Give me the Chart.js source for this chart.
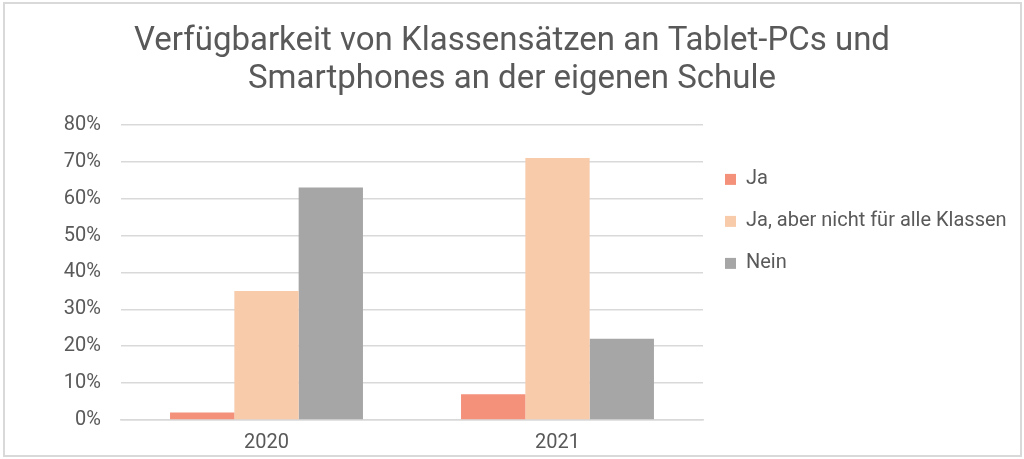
<!DOCTYPE html>
<html>
<head>
<meta charset="utf-8">
<script src="https://cdn.jsdelivr.net/npm/chart.js@4"></script>
<style>
    body { margin: 0; background: #fff; }
    #wrap { position: relative; width: 1024px; height: 459px; }
    #frame {
        position: absolute; left: 3px; top: 2px; width: 1015px; height: 451px;
        border: 2px solid #d9d9d9; pointer-events: none;
    }
</style>
</head>
<body>
<div id="wrap">
    <canvas id="chart" width="1024" height="459"></canvas>
    <div id="frame"></div>
</div>
<script>
// Verfügbarkeit von Klassensätzen (Anteil der Schulen, %)
const years = ['2020', '2021'];
const ja = [2, 7];
const jaTeilweise = [35, 71];
const nein = [63, 22];

const seriesNames = ['Ja', 'Ja, aber nicht für alle Klassen', 'Nein'];
const seriesColors = ['#f4917a', '#f8cbab', '#a6a6a6'];

const textColor = '#595959';
const fontFamily = 'Roboto, "Liberation Sans", sans-serif';

// The layout caps a side legend at a quarter of the width, which cuts
// the long label off. Give the legend a fixed width instead.
const legendWidth = {
    id: 'legendWidth',
    beforeLayout(chart, args, opts) {
        const legend = chart.legend;
        if (!legend || legend.fixedWidth) return;
        const fit = legend.fit;
        legend.fit = function () {
            fit.call(this);
            this.width = opts.width;
        };
        legend.fixedWidth = true;
    }
};

function drawChart() {
    const ctx = document.getElementById('chart');
    new Chart(ctx, {
        type: 'bar',
        plugins: [legendWidth],
        data: {
            labels: years,
            datasets: [ja, jaTeilweise, nein].map((values, i) => ({
                label: seriesNames[i],
                data: values,
                backgroundColor: seriesColors[i],
                borderWidth: 0,
                barPercentage: 1,
                categoryPercentage: 0.663
            }))
        },
        options: {
            responsive: false,
            animation: false,
            layout: {
                padding: { left: 12, right: 12, top: 0, bottom: 1 }
            },
            plugins: {
                legendWidth: { width: 309 },
                title: {
                    display: true,
                    text: ['Verfügbarkeit von Klassensätzen an Tablet-PCs und', 'Smartphones an der eigenen Schule'],
                    color: textColor,
                    font: { family: fontFamily, size: 33, weight: 'normal', lineHeight: 1.15 },
                    padding: { top: 23, bottom: 26 }
                },
                legend: {
                    position: 'right',
                    align: 'start',
                    labels: {
                        color: textColor,
                        font: { family: fontFamily, size: 20 },
                        boxWidth: 11,
                        boxHeight: 11,
                        padding: 22
                    },
                    title: {
                        display: true,
                        text: ' ',
                        padding: { top: 0, bottom: 133 }
                    }
                },
                tooltip: { enabled: false }
            },
            scales: {
                x: {
                    grid: { display: false },
                    border: { display: true, color: '#d9d9d9', width: 1.5 },
                    ticks: {
                        color: textColor,
                        font: { family: fontFamily, size: 20 },
                        padding: 3
                    }
                },
                y: {
                    min: 0,
                    max: 80,
                    afterFit: scale => { scale.width = 109; },
                    grid: { color: '#d9d9d9', lineWidth: 1.5, drawTicks: false },
                    border: { display: false },
                    ticks: {
                        stepSize: 10,
                        color: textColor,
                        font: { family: fontFamily, size: 20 },
                        padding: 20,
                        callback: v => v + '%'
                    }
                }
            }
        }
    });
}

// Roboto is a local font: load it before Chart.js measures text
Promise.all([
    document.fonts.load('20px Roboto'),
    document.fonts.load('33px Roboto')
]).then(drawChart, drawChart);
</script>
</body>
</html>
